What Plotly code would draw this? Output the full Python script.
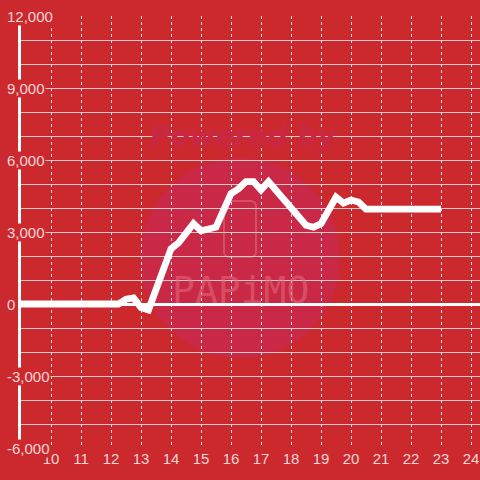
import plotly.graph_objects as go

# ---- data ----
hours = [9, 12.25, 12.5, 12.75, 13.0, 13.25, 14.0, 14.25, 14.75, 15.0, 15.5, 16.0,
         16.25, 16.5, 16.75, 17.0, 17.25, 18.0, 18.5, 18.75, 19.0, 19.5, 19.75,
         20.0, 20.25, 20.5, 23.0]
values = [0, 0, 200, 250, -150, -250, 2300, 2550, 3350, 3050, 3200, 4600,
          4800, 5100, 5100, 4750, 5100, 4000, 3280, 3200, 3350, 4450, 4200,
          4330, 4250, 3950, 3950]
x_ticks = list(range(10, 25))
y_tick_vals = [12000, 9000, 6000, 3000, 0, -3000, -6000]
y_tick_text = ["12,000", "9,000", "6,000", "3,000", "0", "-3,000", "-6,000"]

BG = "rgb(204,41,46)"
LABEL = "rgb(246,214,214)"
FONT = "Liberation Sans, Arial, sans-serif"

fig = go.Figure()
fig.add_trace(go.Scatter(
    x=hours, y=values, mode="lines",
    line=dict(color="white", width=6.8),
    hoverinfo="skip", showlegend=False,
))

Y0, Y1 = -6000, 12000

annotations = []
for v, t in zip(y_tick_vals, y_tick_text):
    annotations.append(dict(
        x=0, xref="paper", y=v, yref="y", text=t, showarrow=False,
        xanchor="left", yanchor="middle", xshift=-15,
        font=dict(family=FONT, size=15, color=LABEL),
        bgcolor=BG, borderpad=0,
    ))

# watermark
def px2x(p):
    return (p - 21) / 459.0

def py2y(p):
    return (448 - p) / 432.0

shapes = [
    dict(type="circle", xref="paper", yref="paper", layer="below",
         x0=px2x(140), x1=px2x(340), y0=py2y(358), y1=py2y(158),
         fillcolor="rgb(201,40,70)", line=dict(width=0)),
]
# phone outline (rounded rect)
xa, xb, ya, yb, r = px2x(224), px2x(256), py2y(257), py2y(201), 0.012
ry = r * 459 / 432
path = (f"M {xa+r},{yb} L {xb-r},{yb} Q {xb},{yb} {xb},{yb-ry} "
        f"L {xb},{ya+ry} Q {xb},{ya} {xb-r},{ya} L {xa+r},{ya} "
        f"Q {xa},{ya} {xa},{ya+ry} L {xa},{yb-ry} Q {xa},{yb} {xa+r},{yb} Z")
shapes.append(dict(type="path", path=path, xref="paper", yref="paper",
                   layer="below", line=dict(color="rgb(214,78,98)", width=2)))

annotations.append(dict(
    x=px2x(243), y=py2y(136), xref="paper", yref="paper",
    xanchor="center", yanchor="middle",
    text="<b><i>Powered by</i></b>", showarrow=False,
    font=dict(family="DejaVu Sans, sans-serif", size=28, color="rgb(201,39,70)"),
))
annotations.append(dict(
    x=px2x(240), y=py2y(290), xref="paper", yref="paper",
    xanchor="center", yanchor="middle",
    text="PAPiMO", showarrow=False,
    font=dict(family="DejaVu Sans Mono, monospace", size=38,
              color="rgba(230,110,125,0.55)"),
))

fig.update_layout(
    width=480, height=480,
    margin=dict(l=21, r=0, t=16, b=32),
    paper_bgcolor=BG, plot_bgcolor=BG,
    showlegend=False,
    annotations=annotations,
    shapes=shapes,
    xaxis=dict(
        range=[9, 24.3], tickmode="array", tickvals=x_ticks,
        ticktext=[str(t) for t in x_ticks],
        showgrid=True, gridcolor="rgb(220,220,220)", gridwidth=1,
        griddash="3px,3px", zeroline=False, showline=False, ticks="",
        tickfont=dict(family=FONT, size=15, color=LABEL),
    ),
    yaxis=dict(
        range=[Y0, Y1], tick0=0, dtick=1000,
        showgrid=True, gridcolor="rgb(205,205,205)", gridwidth=1,
        zeroline=True, zerolinecolor="white", zerolinewidth=3,
        showline=True, linecolor="white", linewidth=3,
        showticklabels=False, ticks="",
    ),
)

fig.write_html(
    "out.html",
    config={"displayModeBar": False},
    post_script="document.body.style.margin='0';document.body.style.background='rgb(204,41,46)';",
)
